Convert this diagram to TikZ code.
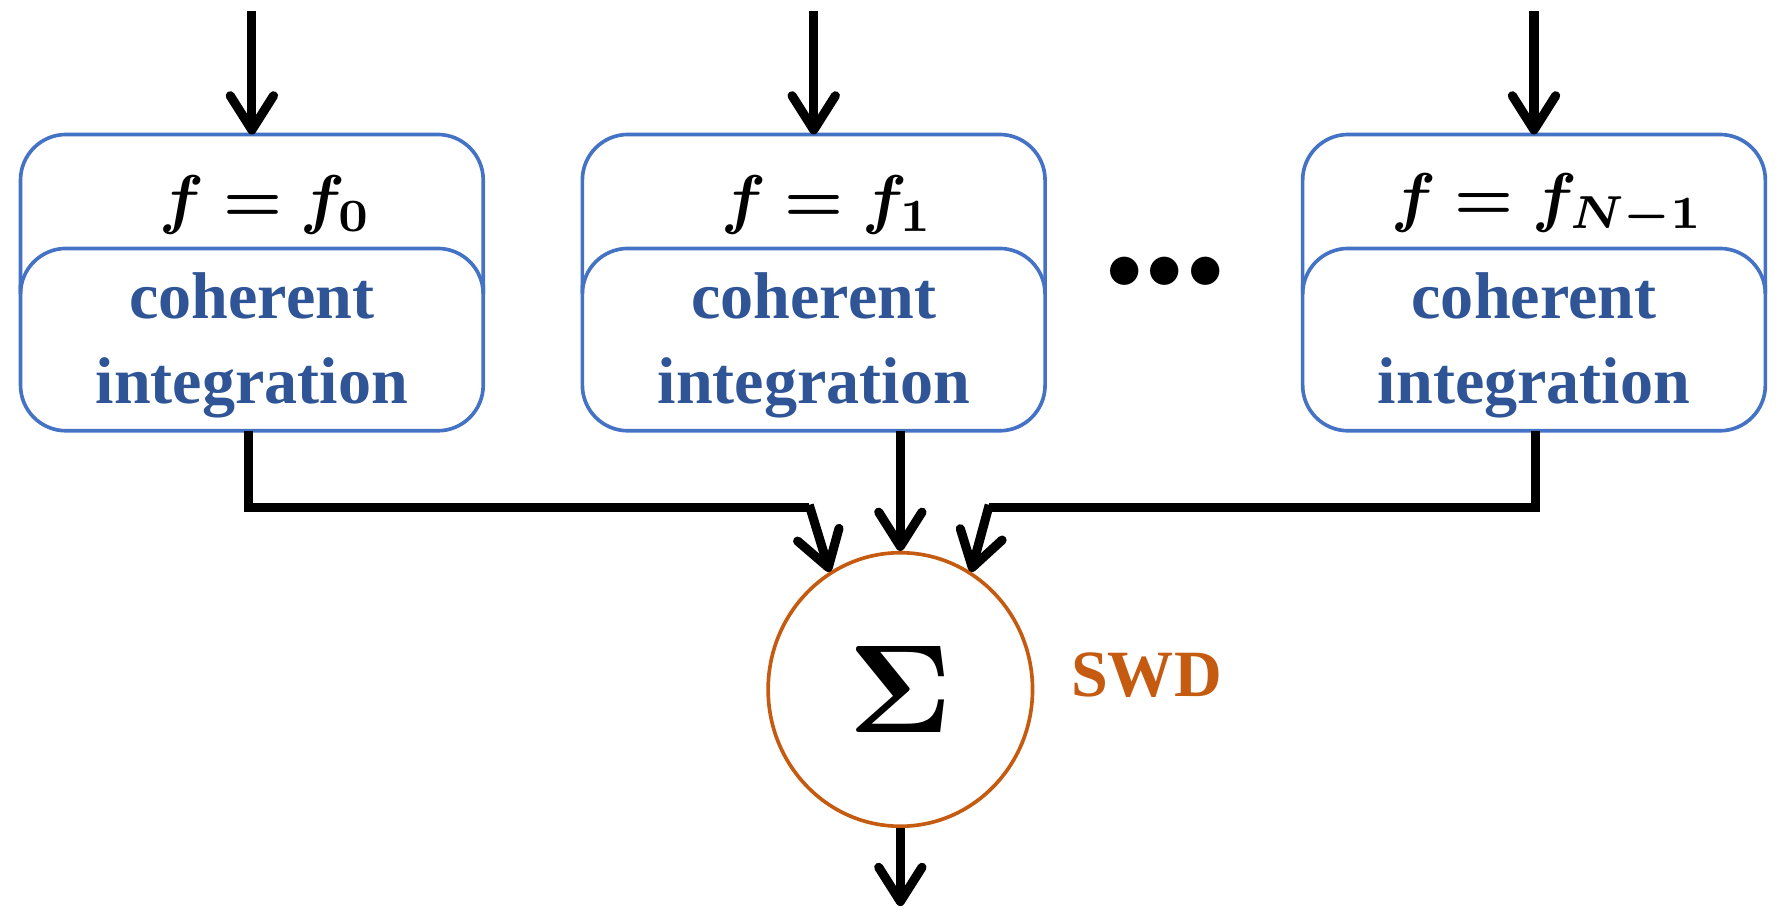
\documentclass[tikz,border=0pt]{standalone}
\usepackage{amsmath,bm,graphicx}
\usepackage{fontspec}
\setmainfont{Liberation Serif}
\usetikzlibrary{arrows.meta,shapes.geometric}
\definecolor{bbord}{HTML}{4472C4}
\definecolor{btext}{HTML}{2F5597}
\definecolor{orng}{HTML}{C55A11}
\begin{document}
\begin{tikzpicture}[x=0.5pt,y=-0.5pt,
  conn/.style={line width=4pt,-{Straight Barb[length=15pt,width=19pt,line width=4pt,round]}},
  wire/.style={line width=4pt},
  box/.style={draw=bbord,line width=1.6pt,rounded corners=20pt},
  ftxt/.style={},
  ctxt/.style={text=btext,font=\fontsize{29}{37}\selectfont\bfseries,align=center}]
\useasboundingbox (0,0) rectangle (1568,806);
\foreach \n/\x/\lab in {a/18/{f_0},b/511/{f_1},c/1143/{f_{N-1}}}{
  \draw[box] (\x,118) rectangle ++(406,260);
  \draw[draw=bbord,line width=1.6pt,rounded corners=20pt] (\x,250) -- (\x,218) -- ++(406,0) -- ++(0,32);
  \node[ftxt] (\n f) at (\x+203+12,180) {\scalebox{2.9}{$\boldsymbol{f=\lab}$}};
  \node[ctxt] (\n c) at (\x+203,303) {coherent\\integration};
  \coordinate (\n t) at (\x+203,118);
  \coordinate (\n s) at (\x+203,10);
  \coordinate (\n b) at (\x+203,378);
}
\node (dots) at (1022,240) {\scalebox{3.2}{$\bullet\!\bullet\!\bullet$}};
\node[draw=orng,line width=1.6pt,ellipse,inner sep=0pt,
  minimum width=116pt,minimum height=120pt] (sum) at (790,605) {};
\node at (sum.center) {\scalebox{5.5}{$\boldsymbol{\Sigma}$}};
\node[text=orng,font=\fontsize{29}{30}\selectfont\bfseries] (swd) at (1006,592) {SWD};
\foreach \n in {a,b,c}{\draw[conn] (\n s) -- (\n t);}
\draw[wire] (218,378) |- (710,445);
\draw[conn] (710,443) -- (sum.121);
\draw[conn] (790,378) -- (sum.north);
\draw[wire] (1347,378) |- (868,445);
\draw[conn] (868,443) -- (sum.59);
\coordinate (out) at (790,795);
\draw[conn] (sum.south) -- (out);
\end{tikzpicture}
\end{document}
